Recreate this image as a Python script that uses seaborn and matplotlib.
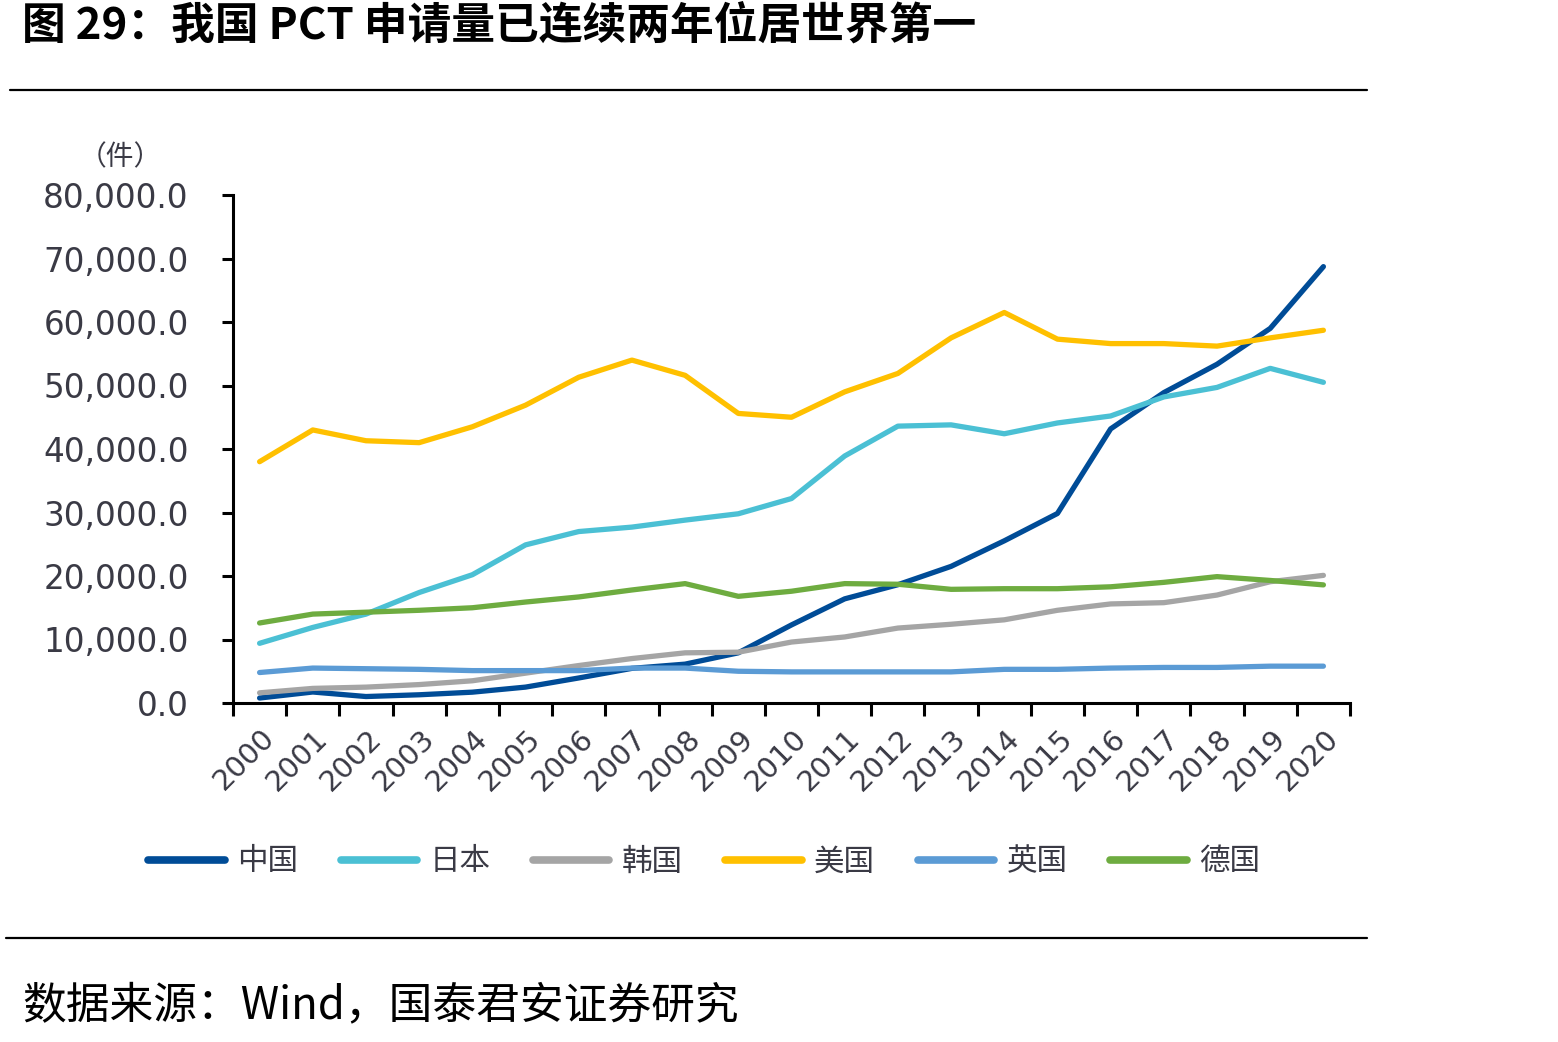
import numpy as np
import pandas as pd
import matplotlib
matplotlib.use('Agg')
import matplotlib.pyplot as plt
import matplotlib.transforms as mtransforms
from matplotlib.lines import Line2D
import seaborn as sns

# 数据
years = list(range(2000, 2021))
china = [784, 1731, 1018, 1295, 1706, 2503, 3942, 5455, 6120, 7900, 12296,
         16402, 18627, 21516, 25539, 29846, 43168, 48882, 53345, 58990, 68720]
japan = [9400, 11900, 14000, 17400, 20200, 24900, 27000, 27700, 28800, 29800, 32200,
         38900, 43600, 43800, 42400, 44100, 45200, 48200, 49700, 52700, 50500]
korea = [1600, 2300, 2500, 2900, 3500, 4700, 5900, 7000, 7900, 8000, 9600,
         10400, 11800, 12400, 13100, 14600, 15600, 15800, 17000, 19100, 20100]
usa = [38000, 43000, 41300, 41000, 43500, 46900, 51300, 54000, 51600, 45600, 45000,
       49000, 51900, 57500, 61500, 57300, 56600, 56600, 56200, 57500, 58700]
uk = [4800, 5500, 5400, 5300, 5100, 5100, 5100, 5500, 5500, 5000, 4900,
      4900, 4900, 4900, 5300, 5300, 5500, 5600, 5600, 5800, 5800]
germany = [12600, 14000, 14300, 14600, 15000, 15900, 16700, 17800, 18800, 16800, 17600,
           18800, 18700, 17900, 18000, 18000, 18300, 19000, 19900, 19300, 18600]

countries = ['中国', '日本', '韩国', '美国', '英国', '德国']
colors = ['#004C97', '#4BC0D4', '#A5A5A5', '#FFC000', '#5B9BD5', '#6EAC40']
series = [china, japan, korea, usa, uk, germany]

df = pd.DataFrame({
    'year': years * len(countries),
    'value': sum(series, []),
    'country': np.repeat(countries, len(years)),
})

sns.set_style('white')
plt.rcParams['font.family'] = ['Noto Sans CJK SC', 'DejaVu Sans']

fig = plt.figure(figsize=(15.58, 10.42), dpi=100)
ax = fig.add_axes([233 / 1558, 1 - 703 / 1042, (1350 - 233) / 1558, (703 - 195) / 1042])

sns.lineplot(data=df, x='year', y='value', hue='country', hue_order=countries,
             palette=colors, linewidth=3.8, ax=ax, legend=False,
             solid_capstyle='round', solid_joinstyle='round')

ax.set_xlim(1999.5, 2020.5)
ax.set_ylim(0, 80000)
ax.set_xlabel('')
ax.set_ylabel('')

tick_color = '#3a3a45'
ax.set_yticks(np.arange(0, 80001, 10000))
ax.set_yticklabels([f'{v:,.1f}' for v in np.arange(0, 80001, 10000)],
                   fontsize=23.5, color=tick_color)
for lab in ax.get_yticklabels():
    lab.set_family('DejaVu Sans')
ax.tick_params(axis='y', which='major', left=True, length=8, width=2.2, pad=24, color='black')

# 分类边界刻度
ax.set_xticks(np.arange(1999.5, 2021, 1.0))
ax.set_xticklabels([])
ax.tick_params(axis='x', which='major', bottom=True, length=9, width=2.2, color='black')
ax.set_xticks(years, minor=True)
ax.set_xticklabels([str(y) for y in years], minor=True, rotation=45, ha='right',
                   rotation_mode='anchor', fontsize=21, color=tick_color)
ax.tick_params(axis='x', which='minor', bottom=True, length=0, pad=15)
offset = mtransforms.ScaledTranslation(1 / 100, 0, fig.dpi_scale_trans)
for lab in ax.get_xticklabels(minor=True):
    lab.set_family('DejaVu Sans')
    lab.set_transform(lab.get_transform() + offset)

for s in ['top', 'right']:
    ax.spines[s].set_visible(False)
for s in ['left', 'bottom']:
    ax.spines[s].set_color('black')
    ax.spines[s].set_linewidth(2.2)

fig.text(120 / 1558, 1 - 157 / 1042, '（件）', ha='center', va='center',
         fontsize=20, color=tick_color)

# 图例
handles = [Line2D([0], [0], color=c, linewidth=5.5, solid_capstyle='round') for c in colors]
fig.legend(handles, countries, loc='center', bbox_to_anchor=(704 / 1558, 1 - 862 / 1042),
           ncol=6, frameon=False, fontsize=22, handlelength=2.5, handletextpad=0.4,
           columnspacing=1.4, labelcolor=tick_color)

# 标题与来源
fig.text(22 / 1558, 1 - 26 / 1042, '图 29：我国 PCT 申请量已连续两年位居世界第一',
         ha='left', va='center', fontsize=31.5, fontweight='bold', color='black')
fig.add_artist(Line2D([10 / 1558, 1367 / 1558], [1 - 90 / 1042, 1 - 90 / 1042],
                      color='black', linewidth=1.6))
fig.add_artist(Line2D([6 / 1558, 1367 / 1558], [1 - 938 / 1042, 1 - 938 / 1042],
                      color='black', linewidth=1.6))
fig.text(22 / 1558, 1 - 1005 / 1042, '数据来源：Wind，国泰君安证券研究',
         ha='left', va='center', fontsize=31.5, color='black')

fig.savefig('out.png', dpi=100)
